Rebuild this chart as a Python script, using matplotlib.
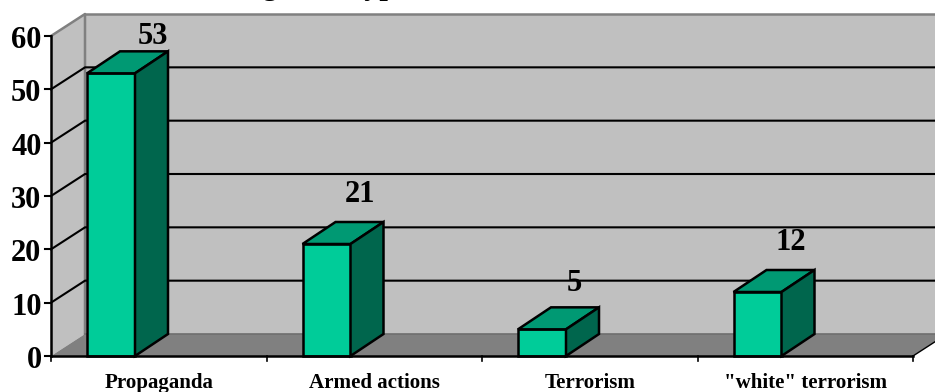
import matplotlib
matplotlib.use("Agg")
import matplotlib.pyplot as plt
from matplotlib.patches import Polygon

categories = ["Propaganda", "Armed actions", "Terrorism", '"white" terrorism']
values = [53, 21, 5, 12]
y_ticks = [0, 10, 20, 30, 40, 50, 60]
title = "Targets of type"

# label placement relative to each bar's back top-right corner, in pixels
label_dx = [-15, -24, -25, -24]
label_gap = [7, 20, 16, 20]

W, H = 935, 392
X0, X1 = 51, 913
Y0, Y1 = 356, 36
PX_X = (X1 - X0) / 4           # pixels per category
PX_Y = (Y0 - Y1) / 60          # pixels per value unit
DX = 34 / PX_X                 # wall depth
DY = 22 / PX_Y
BAR_DX = 33 / PX_X             # bar depth
BAR_L = 36 / PX_X
BAR_W = 48 / PX_X

plt.rcParams["font.family"] = ["Liberation Serif", "DejaVu Serif"]
plt.rcParams["font.weight"] = "bold"

fig = plt.figure(figsize=(W / 100, H / 100), dpi=100, facecolor="white")
ax = fig.add_axes([X0 / W, 1 - Y0 / H, (X1 - X0) / W, (Y0 - Y1) / H])
ax.set_xlim(0, len(categories))
ax.set_ylim(0, 60)
ax.axis("off")


def poly(pts, fc, ec="none", lw=0, z=1):
    ax.add_patch(Polygon(pts, closed=True, fc=fc, ec=ec, lw=lw, zorder=z,
                         clip_on=False, joinstyle="miter"))


n = len(categories)
right = n + 0.2
ymax = y_ticks[-1]

# back wall, side wall and floor
poly([(DX, DY), (right, DY), (right, ymax + DY), (DX, ymax + DY)], "#c0c0c0")
poly([(0, 0), (DX, DY), (DX, ymax + DY), (0, ymax)], "#c0c0c0", z=1)
poly([(0, 0), (n, 0), (n + DX, DY), (right, DY), (DX, DY)], "#808080", z=1)
ax.plot([0, DX, DX], [ymax, ymax + DY, DY], color="#808080", lw=1.8,
        zorder=2, clip_on=False)
ax.plot([DX, right], [ymax + DY] * 2, color="#808080", lw=1.8, zorder=2, clip_on=False)
ax.plot([DX, right], [DY, DY], color="#6e6e6e", lw=1.2, zorder=2, clip_on=False)

# gridlines wrapping from the side wall to the back wall
for t in y_ticks[1:-1]:
    ax.plot([0, DX, right], [t, t + DY, t + DY], color="black", lw=1.5, zorder=3,
            clip_on=False)

# axes and tick marks
ax.plot([0, 0], [0, ymax], color="black", lw=1.8, zorder=6, clip_on=False,
        solid_capstyle="projecting")
ax.plot([0, n], [0, 0], color="black", lw=1.8, zorder=6, clip_on=False,
        solid_capstyle="projecting")
ax.plot([n, n + DX], [0, DY], color="black", lw=1.0, zorder=3, clip_on=False)
for t in y_ticks:
    ax.plot([0, -6 / PX_X], [t, t], color="black", lw=1.5, zorder=6, clip_on=False)
    ax.text(-9.5 / PX_X, t - 12 / PX_Y, str(t), ha="right", va="baseline",
            fontsize=22, zorder=7)
for i in range(n + 1):
    ax.plot([i, i], [0, -4.5 / PX_Y], color="black", lw=1.2, zorder=6, clip_on=False)

# bars with front, top and side faces
for i, v in enumerate(values):
    a, b = i + BAR_L, i + BAR_L + BAR_W
    c = b + BAR_DX
    poly([(a, 0), (b, 0), (b, v), (a, v)], "#00cc99", "black", 1.8, z=5)
    poly([(a, v), (b, v), (c, v + DY), (a + BAR_DX, v + DY)], "#009973", "black", 1.8, z=5)
    poly([(b, 0), (c, DY), (c, v + DY), (b, v)], "#00664d", "black", 1.8, z=5)
    ax.text(c + label_dx[i] / PX_X, v + DY + label_gap[i] / PX_Y, str(v),
            ha="center", va="baseline", fontsize=22, zorder=7)
    ax.text(i + 0.5, -32 / PX_Y, categories[i], ha="center", va="baseline",
            fontsize=15.1, zorder=7)

# the heading sits above the top edge, so only its descenders show
fig.text(216 / W, 1 + 6 / H, title, ha="left", va="baseline", fontsize=22)

fig.savefig("out.png", dpi=100)
